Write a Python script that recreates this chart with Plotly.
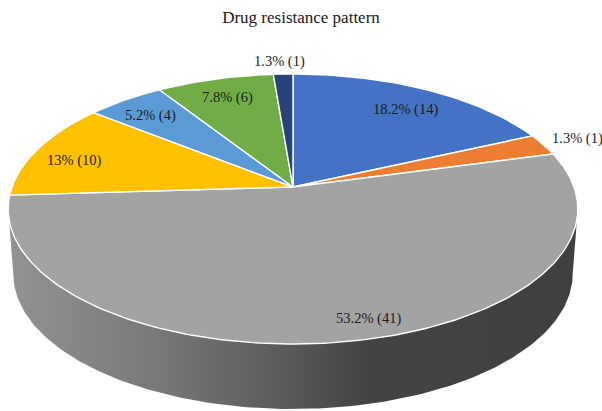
import numpy as np
import plotly.graph_objects as go

# Data
title = "Drug resistance pattern"
categories = ["A", "B", "C", "D", "E", "F", "G"]
drawn_counts = [14, 2, 41, 9, 4, 6, 1]
label_texts = ["18.2% (14)", "1.3% (1)", "53.2% (41)", "13% (10)",
               "5.2% (4)", "7.8% (6)", "1.3% (1)"]
colors = ["#4472C4", "#ED7D31", "#A3A3A3", "#FFC000", "#5B9BD5", "#70AD47", "#264478"]

# Label anchors on the plot
label_x = [405, 577, 368, 74, 150, 227, 279.5]
label_y = [109, 138, 318, 160, 115, 97, 61.5]

# Perspective geometry of the tilted disc
CX, CY = 293.0, 187.0
A, B, K = 281.0, 131.4, 0.163
DEPTH = 65.0
TAPER = 0.982
WIDEST = 99.4  # angle of the disc's widest point in the projection


def project(theta, scale=1.0, dy=0.0):
    u, v = np.sin(theta), np.cos(theta)
    w = 1 + K * v
    return CX + scale * A * u / w, CY + dy - B * v / w


fig = go.Figure()

# Side wall
t = np.radians(np.linspace(WIDEST, 360 - WIDEST, 181))
x_top, y_top = project(t)
x_bot, y_bot = project(t[::-1], TAPER, DEPTH)
fig.add_trace(go.Scatter(
    x=np.r_[x_top, x_bot], y=np.r_[y_top, y_bot],
    mode="lines", line=dict(width=0), fill="toself", hoverinfo="skip",
    fillgradient=dict(
        type="horizontal", start=8, stop=578,
        colorscale=[[0, "#929292"], [0.25, "#7a7a7a"], [0.5, "#585858"],
                    [0.63, "#434343"], [1, "#404040"]],
    ),
))

# Top face slices
fractions = np.array(drawn_counts) / sum(drawn_counts)
edges = np.r_[0, np.cumsum(fractions)] * 2 * np.pi
for i, name in enumerate(categories):
    th = np.linspace(edges[i], edges[i + 1], max(3, int(fractions[i] * 360)))
    xs, ys = project(th)
    fig.add_trace(go.Scatter(
        x=np.r_[CX, xs, CX], y=np.r_[CY, ys, CY], name=name,
        mode="lines", line=dict(color="white", width=1.4),
        fill="toself", fillcolor=colors[i], hoverinfo="skip",
    ))

for txt, lx, ly in zip(label_texts, label_x, label_y):
    fig.add_annotation(x=lx, y=ly, text=txt, showarrow=False,
                       font=dict(family="Liberation Serif", size=14.5, color="#1a1a1a"))

fig.update_layout(
    width=602, height=411, margin=dict(l=0, r=0, t=0, b=0),
    paper_bgcolor="white", plot_bgcolor="white", showlegend=False,
    title=dict(text=title, x=301 / 602, xanchor="center", y=1 - 17 / 411, yanchor="middle",
               font=dict(family="Liberation Serif", size=17, color="#1a1a1a")),
    xaxis=dict(range=[0, 602], visible=False, fixedrange=True),
    yaxis=dict(range=[411, 0], visible=False, fixedrange=True),
)
fig.write_html("out.html", config=dict(displayModeBar=False),
               post_script="document.body.style.margin='0';")
